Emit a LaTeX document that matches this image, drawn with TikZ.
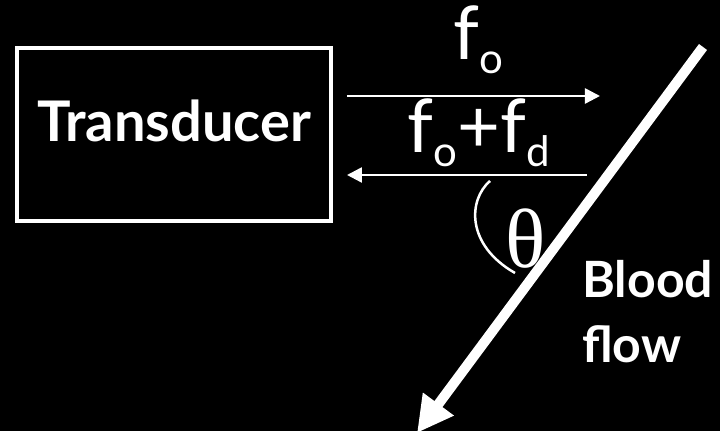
\documentclass[tikz,border=0pt]{standalone}
\usepackage{fontspec}
\setmainfont{Lato}
\newfontfamily\thetafont{Liberation Serif}
\usetikzlibrary{arrows.meta}

\begin{document}
\begin{tikzpicture}[x=0.5pt, y=-0.5pt,
    lbl/.style={text=white, inner sep=0pt},
    bigfont/.style={font=\bfseries\fontsize{28}{32.5}\selectfont},
    freqfont/.style={font=\fontsize{37}{40}\selectfont},
    beam/.style={white, line width=1.25pt, -{Triangle[length=7.5pt, width=7.5pt]}}]
    \fill[black] (0,0) rectangle (720,431);
    \clip (0,0) rectangle (720,431);

    \node[draw=white, line width=2pt, text=white, bigfont, minimum width=157pt, minimum height=86.5pt,
        text height=20pt, text depth=12.5pt] (transducer) at (174,134.5) {Transducer};

    \coordinate (txstart) at (347,96);
    \coordinate (txend) at (600,96);
    \draw[beam] (txstart) -- (txend);
    \node[lbl, freqfont, anchor=base] (fo) at (478,60) {f\raisebox{-7pt}{\fontsize{21}{21}\selectfont o}};

    \coordinate (rxstart) at (587,175);
    \coordinate (rxend) at (347,175);
    \draw[beam] (rxstart) -- (rxend);
    \node[lbl, freqfont, anchor=base] (fofd) at (479,153)
        {f\raisebox{-7pt}{\fontsize{21}{21}\selectfont o}+f\raisebox{-7pt}{\fontsize{21}{21}\selectfont d}};

    \draw[white, line width=1.25pt] (490,181) .. controls (468,200) and (466,245) .. (515,273);
    \node[lbl, font=\thetafont\fontsize{42}{44}\selectfont] (theta) at (526,239) {θ};

    \coordinate (flowstart) at (703,47);
    \coordinate (flowend) at (417,433);
    \draw[white, line width=5pt, -{Triangle[length=18pt, width=18pt]}] (flowstart) -- (flowend);
    \node[lbl, font=\bfseries\fontsize{25}{32.5}\selectfont, align=left, anchor=north west] (blood) at (582,260) {Blood\\flow};
\end{tikzpicture}
\end{document}
